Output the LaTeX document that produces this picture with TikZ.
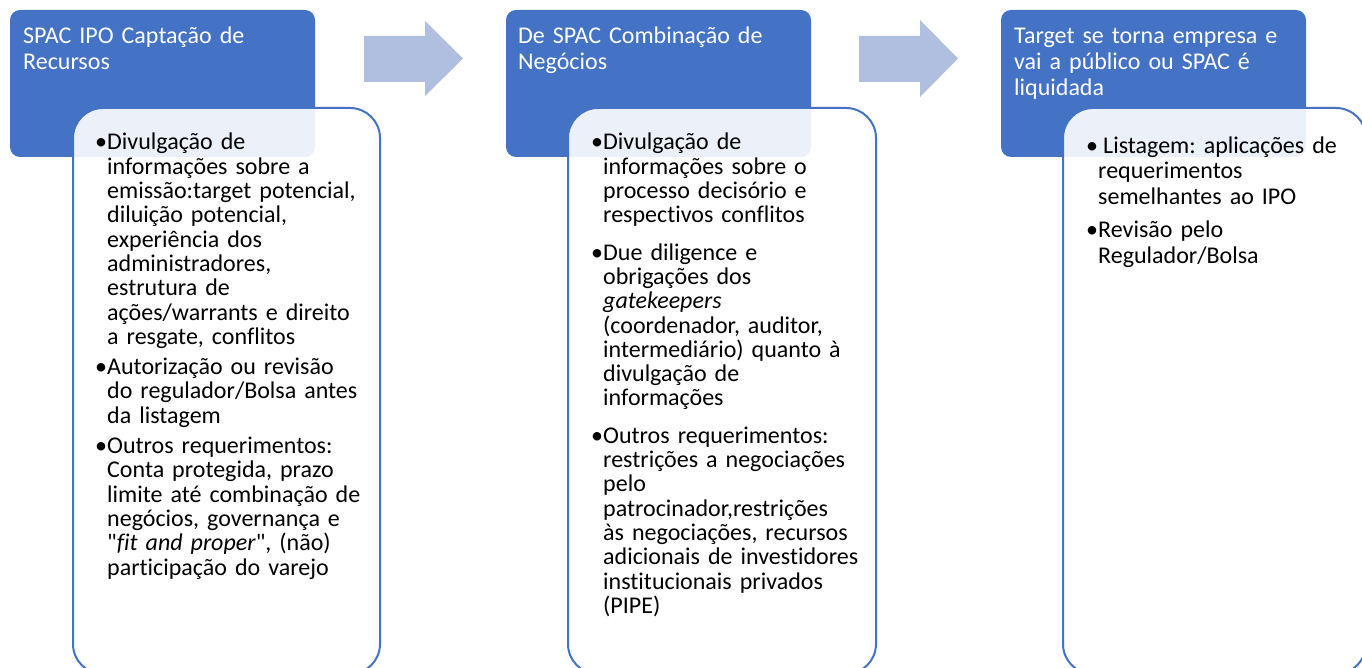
\documentclass[tikz,border=0pt]{standalone}
\usepackage{fontspec}
\setmainfont{Carlito}[Ligatures={TeXOff,NoCommon}]
\definecolor{acc}{HTML}{4472C4}
\definecolor{arr}{HTML}{B0BEE0}
\newcommand\bitem[1]{\hangindent=12pt\hangafter=1\noindent\makebox[12pt][c]{•}#1\par}
\tikzset{
  titlebox/.style={fill=acc, rounded corners=10pt},
  detailbox/.style={draw=acc, line width=2pt, fill=white, fill opacity=0.9, draw opacity=1, rounded corners=30pt},
  titletext/.style={anchor=base west, text=white, text width=290pt, align=left, inner sep=0pt, font=\fontsize{24}{26}\selectfont\frenchspacing},
  bodytext/.style={anchor=base west, text=black, text width=300pt, align=left, inner sep=0pt, font=\fontsize{24}{24.3}\selectfont\frenchspacing},
  blockarrow/.style={fill=arr}
}
\begin{document}
\begin{tikzpicture}[x=1pt,y=-1pt]
\useasboundingbox (0,0) rectangle (1362,668);
\fill[white] (0,0) rectangle (1362,668);
% title boxes
\fill[titlebox] (10,10) rectangle (315,157);
\fill[titlebox] (506,10) rectangle (811,157);
\fill[titlebox] (1001,10) rectangle (1306,157);
% detail boxes
\path[detailbox] (73,108) rectangle (380,674);
\path[detailbox] (568,108) rectangle (876,674);
\path[detailbox] (1063,108) rectangle (1366,674);
% arrows
\fill[blockarrow] (364,36) -- (425,36) -- (425,21) -- (463,58.5) -- (425,96) -- (425,82) -- (364,82) -- cycle;
\fill[blockarrow] (859,36) -- (920,36) -- (920,20) -- (958,58.5) -- (920,97) -- (920,82) -- (859,82) -- cycle;
% titles
\node[titletext] (t1) at (23,43.5) {SPAC IPO Captação de\newline Recursos};
\node[titletext] (t2) at (518,43.5) {De SPAC Combinação de\newline Negócios};
\node[titletext] (t3) at (1014,43.5) {Target se torna empresa e\newline vai a público ou SPAC é\newline liquidada};
% bodies
\node[bodytext] (b1) at (95,150) {\setlength{\parskip}{6pt}\bitem{Divulgação de\newline informações sobre a\newline emissão:target potencial,\newline diluição potencial,\newline experiência dos\newline administradores,\newline estrutura de\newline ações/warrants e direito\newline a resgate, conflitos}
\bitem{Autorização ou revisão\newline do regulador/Bolsa antes\newline da listagem}
\bitem{Outros requerimentos:\newline Conta protegida, prazo\newline limite até combinação de\newline negócios, governança e\newline "\textit{fit and proper}", (não)\newline participação do varejo}};
\node[bodytext] (b2) at (591,150) {\setlength{\parskip}{13pt}\bitem{Divulgação de\newline informações sobre o\newline processo decisório e\newline respectivos conflitos}
\bitem{Due diligence e\newline obrigações dos\newline \textit{gatekeepers}\newline (coordenador, auditor,\newline intermediário) quanto à\newline divulgação de\newline informações}
\bitem{Outros requerimentos:\newline restrições a negociações\newline pelo\newline patrocinador,restrições\newline às negociações, recursos\newline adicionais de investidores\newline institucionais privados\newline (PIPE)}};
\node[bodytext] (b3) at (1086,153.5) {\fontsize{24}{25.5}\selectfont\setlength{\parskip}{8pt}\bitem{\hspace{5pt}Listagem: aplicações de\newline requerimentos\newline semelhantes ao IPO}
\bitem{Revisão pelo\newline Regulador/Bolsa}};
\end{tikzpicture}
\end{document}
